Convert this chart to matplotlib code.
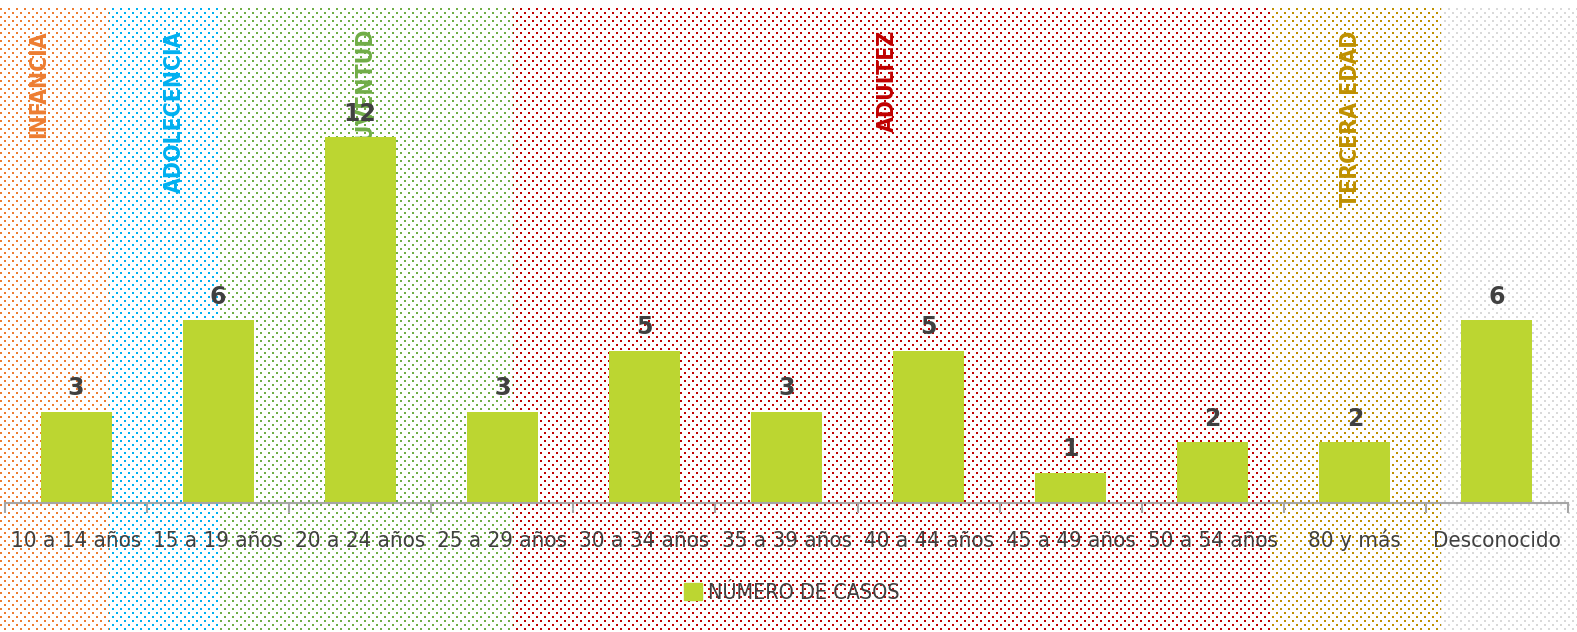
import numpy as np
import matplotlib
matplotlib.use("Agg")
import matplotlib.pyplot as plt
from matplotlib import font_manager as fm
from matplotlib.patches import Patch

# data
categories = ['10 a 14 años', '15 a 19 años', '20 a 24 años', '25 a 29 años',
              '30 a 34 años', '35 a 39 años', '40 a 44 años', '45 a 49 años',
              '50 a 54 años', '80 y más', 'Desconocido']
casos = [3, 6, 12, 3, 5, 3, 5, 1, 2, 2, 6]

# age groups drawn as dotted background bands (edges in category units)
group_names = ['INFANCIA', 'ADOLECENCIA', 'JUVENTUD', 'ADULTEZ', 'TERCERA EDAD', '']
group_edges = [0.23, 1.0, 3.07, 8.41, 9.6]
group_label_x = [-0.26, 0.69, 2.05, 5.71, 8.97, None]
group_colors = ['#ED7D31', '#00B0F0', '#70AD47', '#C00000', '#BF9000', '#D9D9D9']

bar_color = '#BCD631'
text_color = '#404040'

# narrow font, closest to the condensed face of the original
fp_reg = fm.FontProperties(family='DejaVu Sans', stretch='condensed')
fp_bold = fm.FontProperties(family='DejaVu Sans', stretch='condensed', weight='bold')

W, H = 1577, 632
fig = plt.figure(figsize=(W / 100, H / 100), dpi=100)

bg = fig.add_axes([0, 0, 1, 1], zorder=0)
bg.set_axis_off()

ax = fig.add_axes([5 / W, (H - 503) / H, 1563 / W, (503 - 8) / H], zorder=1)
ax.patch.set_alpha(0)
x = np.arange(len(categories))
ax.set_xlim(-0.5, len(categories) - 0.5)
ax.set_ylim(0, (503 - 8) / 30.5)

# background dot pattern
edges_px = ax.transData.transform(np.column_stack([group_edges, np.zeros(len(group_edges))]))[:, 0]
bounds = [0] + list(edges_px) + [W]
img = np.ones((H, W, 3))
yy, xx = np.mgrid[0:H, 0:W]
top = 8
row = (yy - top) // 4
dots = ((yy - top) % 4 < 2) & (((xx + 4 * (row % 2)) % 8) < 2) & (yy >= top)
for i, c in enumerate(group_colors):
    rgb = np.array(matplotlib.colors.to_rgb(c))
    band = dots & (xx >= bounds[i]) & (xx < bounds[i + 1])
    img[band] = rgb
bg.imshow(img, extent=[0, W, H, 0], interpolation='nearest', aspect='auto')
bg.set_xlim(0, W)
bg.set_ylim(H, 0)

# group labels (behind bars)
for name, gx, c in zip(group_names, group_label_x, group_colors):
    if gx is None:
        continue
    ax.text(gx, 15.5, name, rotation=90, ha='center', va='top', color=c,
            fontproperties=fp_bold, fontsize=16.5, zorder=1)

bars = ax.bar(x, casos, width=0.5, color=bar_color, zorder=2)
for xi, v in zip(x, casos):
    ax.annotate(str(v), (xi, v), xytext=(0, 8), textcoords='offset points',
                ha='center', va='bottom', fontsize=17, fontweight='bold',
                color=text_color, family='DejaVu Sans', zorder=3)

for s in ['left', 'right', 'top']:
    ax.spines[s].set_visible(False)
ax.spines['bottom'].set_color('#A6A6A6')
ax.spines['bottom'].set_linewidth(1.5)
ax.set_yticks([])
ax.set_xticks(x)
ax.set_xticklabels(categories, fontproperties=fp_reg, fontsize=16, color=text_color)
for lbl in ax.get_xticklabels():
    lbl.set_verticalalignment('baseline')
ax.set_xticks(np.arange(len(categories) + 1) - 0.5, minor=True)
ax.tick_params(axis='x', which='major', length=0, pad=32)
ax.tick_params(axis='x', which='minor', length=7, width=1.5, color='#A6A6A6')

leg_fp = fp_reg.copy()
leg_fp.set_size(15.5)
fig.legend(handles=[Patch(color=bar_color, label='NÚMERO DE CASOS')],
           loc='center', bbox_to_anchor=(792 / W, (H - 593) / H), frameon=False,
           handlelength=0.8, handleheight=0.8, handletextpad=0.3,
           prop=leg_fp, labelcolor=text_color)

fig.savefig('out.png', dpi=100)
